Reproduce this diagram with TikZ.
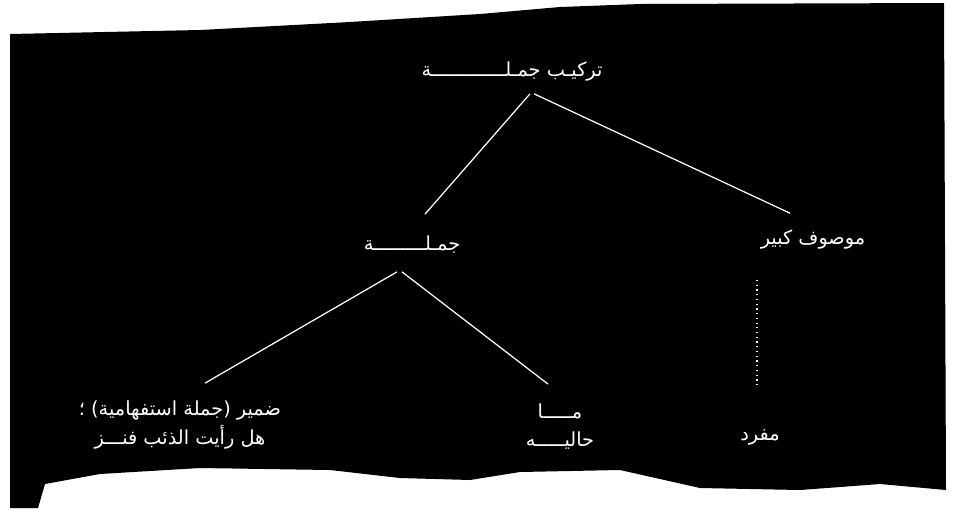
\documentclass[tikz,border=0pt]{standalone}
\usepackage{fontspec}
\newfontfamily\arabicfont[Script=Arabic]{DejaVu Sans}
\TeXXeTstate=1
\usetikzlibrary{calc}
\newcommand{\artxt}[1]{\beginR #1\endR}

\begin{document}
\begin{tikzpicture}[x=0.02cm,y=-0.02cm,
  arab/.style={text=white, font=\arabicfont\fontsize{11}{16}\selectfont, inner sep=1pt},
  rama/.style={white, line width=0.7pt}]
  \useasboundingbox (0,0) rectangle (963,515);

  % Fondo
  \fill[black] (10,34) -- (200,30) -- (350,22) -- (480,14) -- (560,7) -- (640,4)
    -- (944,3) -- (946,490) -- (880,484) -- (800,490) -- (700,488) -- (620,470)
    -- (520,472) -- (470,480) -- (400,478) -- (330,470) -- (200,468) -- (100,474)
    -- (45,484) -- (38,508) -- (10,508) -- cycle;

  % Nodos
  \node[arab] (raiz) at (512,72) {\artxt{تركيـب جمـلـــــــــــــة}};
  \node[arab] (jumla) at (412,245) {\artxt{جمـلـــــــــة}};
  \node[arab] (mawsuf) at (813,240) {\artxt{موصوف كبير}};
  \node[arab, align=center] (istifham) at (180,425)
    {\artxt{ضمير (جملة استفهامية) ؛}\\ \artxt{هل رأيت الذئب فنـــز}};
  \node[arab, align=center] (haliya) at (560,427)
    {\artxt{مـــــا}\\ \artxt{حاليـــــه}};
  \node[arab] (mufrad) at (760,437) {\artxt{مفرد}};

  % Ramas
  \draw[rama] ($(raiz.south)+(18,10)$) -- ($(jumla.north)+(13,-20)$);
  \draw[rama] ($(raiz.south)+(22,10)$) -- ($(mawsuf.north)+(-23,-15)$);
  \draw[rama] ($(jumla.south)+(-15,16)$) -- ($(istifham.north)+(25,-16)$);
  \draw[rama] ($(jumla.south)+(-10,16)$) -- ($(haliya.north)+(-12,-18)$);
  \draw[rama, dotted, line width=1pt] ($(mawsuf.south)+(-56,28)$) -- ($(mufrad.north)+(-3,-40)$);
\end{tikzpicture}
\end{document}
